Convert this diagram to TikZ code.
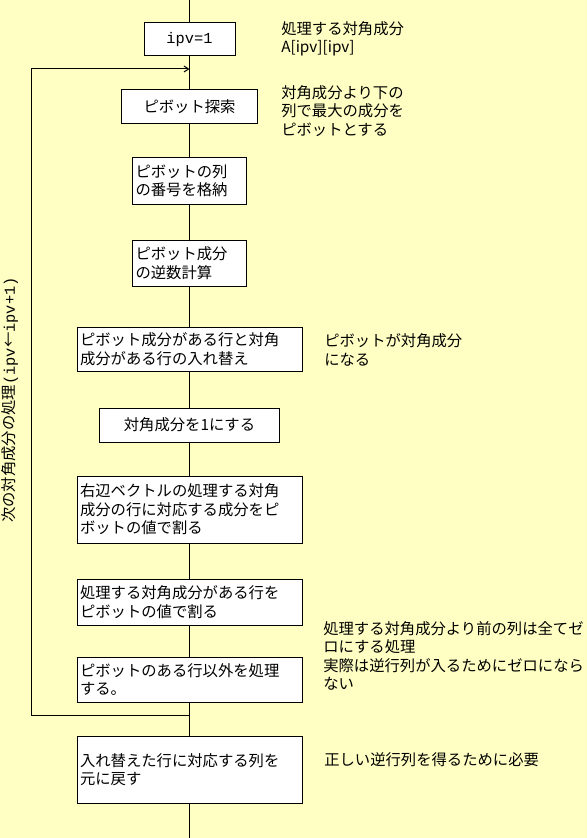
\documentclass[tikz,border=0pt]{standalone}
\usepackage{fontspec}
\setmainfont{Noto Sans CJK JP}
\setmonofont{Liberation Mono}
\usetikzlibrary{arrows.meta}
\definecolor{cPaper}{RGB}{255,255,196}
\newcommand{\jfont}{\fontsize{11.5pt}{13.9pt}\selectfont}
\tikzset{
  >={Straight Barb[length=3.5pt,width=4.5pt]},
  proc/.style={draw,fill=white,line width=0.75pt,inner xsep=2.25pt,inner ysep=0pt,
               align=center,font=\jfont},                 % process box
  procL/.style={proc,align=left,text width=164.25pt,minimum height=#1},% wide box, text left
  procS/.style={proc,align=left,text width=81pt,minimum height=34.5pt}, % narrow box
  note/.style={anchor=west,inner sep=0pt,align=left,font=\jfont},       % side remark
  flow/.style={-,line width=0.75pt},
}

\begin{document}
\begin{tikzpicture}[x=0.75pt,y=-0.75pt]
  \fill[cPaper] (0,0) rectangle (587,838);
  \useasboundingbox (0,0) rectangle (587,838);

  % ---- flow boxes (main column) ----
  \node[proc,minimum width=68.25pt,minimum height=24.75pt,font=\jfont\ttfamily]
        (ipv) at (189.5,39.5) {ipv=1};
  \node[proc,minimum width=102pt,minimum height=25.5pt] (search) at (189.5,107) {ピボット探索};
  \node[procS] (colno) at (189.5,181) {ピボットの列\\の番号を格納};
  \node[procS] (recip) at (189.5,263) {ピボット成分\\の逆数計算};
  \node[procL=33pt] (swap) at (189.5,349) {ピボット成分がある行と対角\\成分がある行の入れ替え};
  \node[proc,minimum width=135pt,minimum height=25.5pt] (diag) at (189.5,425) {対角成分を1にする};
  \node[procL=50.25pt] (rhs) at (189.5,509.5) {右辺ベクトルの処理する対角\\成分の行に対応する成分をピ\\ボットの値で割る};
  \node[procL=34.5pt] (divrow) at (189.5,602) {処理する対角成分がある行を\\ピボットの値で割る};
  \node[procL=33.75pt] (elim) at (189.5,679.5) {ピボットのある行以外を処理\\する。};
  \node[procL=50.25pt] (restore) at (189.5,769.5) {入れ替えた行に対応する列を\\元に戻す};

  % ---- main line ----
  \coordinate (top) at (189.5,0);
  \coordinate (bot) at (189.5,838);
  \foreach \a/\b in {top/ipv,ipv/search,search/colno,colno/recip,recip/swap,
                     swap/diag,diag/rhs,rhs/divrow,divrow/elim,elim/restore,restore/bot}
    \draw[flow] (\a)--(\b);

  % ---- loop back to next diagonal ----
  \coordinate (loopin)  at (189.5,69);
  \coordinate (loopout) at (189.5,715);
  \coordinate (loopT)   at (31.5,69);
  \coordinate (loopB)   at (31.5,715);
  \draw[flow,->] (loopout)--(loopB)--(loopT)--(loopin);
  \node[rotate=90,inner sep=0pt,font=\jfont] (nexttxt) at (10,400)
        {次の対角成分の処理\texttt{(ipv}←\texttt{ipv+1)}};

  % ---- side remarks ----
  \node[note] (n1) at (281,39)  {処理する対角成分\\A[ipv][ipv]};
  \node[note] (n2) at (281,111) {対角成分より下の\\列で最大の成分を\\ピボットとする};
  \node[note] (n3) at (324,350) {ピボットが対角成分\\になる};
  \node[note] (n4) at (323,656) {処理する対角成分より前の列は全てゼ\\ロにする処理\\実際は逆行列が入るためにゼロになら\\ない};
  \node[note] (n5) at (324,760) {正しい逆行列を得るために必要};
\end{tikzpicture}
\end{document}
